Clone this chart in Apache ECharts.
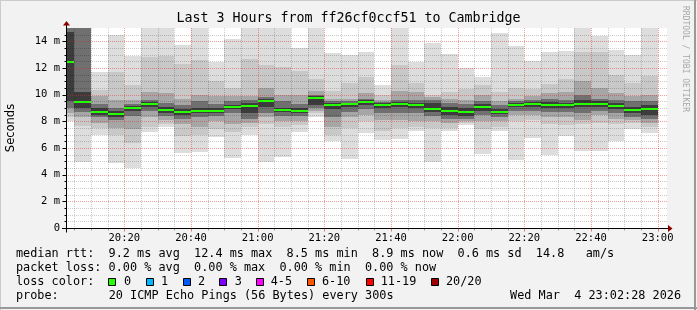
<!DOCTYPE html>
<html><head><meta charset="utf-8">
<script src="https://cdn.jsdelivr.net/npm/echarts@6/dist/echarts.min.js"></script>
<style>html,body{margin:0;padding:0;background:#f2f2f2}#c{width:697px;height:310px}</style>
</head><body><div id="c"></div>
<script>
// ---- data (5-minute slots, values in ms) ----
const slots = ['20:00','20:05','20:10','20:15','20:20','20:25','20:30','20:35','20:40','20:45','20:50','20:55',
  '21:00','21:05','21:10','21:15','21:20','21:25','21:30','21:35','21:40','21:45','21:50','21:55',
  '22:00','22:05','22:10','22:15','22:20','22:25','22:30','22:35','22:40','22:45','22:50','22:55'];
const maxV = [16,16,11.72,14.5,12.9,15.2,15.2,13.7,15.2,12.47,14.17,15.2,15.2,15.2,13.53,15.2,13.1,12.95,13.2,10.7,15.2,12.47,13.85,13.05,11.97,11.35,14.65,13.65,12.55,13.2,13.3,15.2,14.4,13.35,13.0,15.2];
const hi2  = [16,16,10.35,11.7,10.7,12.85,12.9,12.3,12.6,11.0,10.5,12.7,12.2,12.05,11.8,11.15,10.3,10.9,11.3,10.0,12.2,10.9,10.0,10.2,10.4,10.7,10.2,10.5,10.4,10.8,11.2,13.2,13.2,11.5,10.9,11.4];
const hi3  = [16,16,9.9,9.6,9.6,10.2,10.1,9.7,10.0,9.9,9.9,9.9,10.5,10.0,10.0,10.3,9.7,9.7,10.1,9.6,10.3,10.2,9.8,9.7,9.6,10.0,9.5,9.7,9.9,10.1,10.2,11.0,10.5,10.1,9.9,10.0];
const hi4  = [16,16,9.3,9.0,9.3,9.6,9.4,9.2,9.5,9.3,9.5,9.6,9.8,9.5,9.3,10.0,9.5,9.5,9.7,9.45,9.6,9.6,9.6,9.4,9.3,9.5,9.2,9.5,9.6,9.7,9.6,10.0,9.7,9.6,9.5,9.5];
const hi5  = [14.7,10.2,9.0,8.75,9.15,9.45,9.1,8.95,9.0,9.0,9.25,9.35,9.7,9.0,9.0,9.9,9.35,9.4,9.6,9.35,9.45,9.4,9.4,9.1,9.0,9.3,8.95,9.4,9.45,9.45,9.4,9.6,9.5,9.35,9.1,9.2];
const median = [12.45,9.47,8.72,8.55,9.02,9.3,8.87,8.72,8.8,8.8,9.1,9.17,9.55,8.87,8.8,9.75,9.25,9.32,9.47,9.25,9.32,9.25,8.95,8.75,8.72,9.1,8.72,9.25,9.32,9.25,9.25,9.32,9.32,9.17,8.87,8.95];
const lo5  = [9.5,9.0,8.5,8.35,8.8,9.1,8.6,8.5,8.6,8.6,8.9,8.6,9.1,8.7,8.6,9.2,8.9,9.1,9.2,9.0,9.1,9.0,8.7,8.5,8.4,8.8,8.55,9.05,9.1,9.0,9.0,9.1,9.1,8.9,8.6,8.5];
const lo4  = [9.0,8.7,8.3,8.1,8.4,8.8,8.4,8.2,8.3,8.4,8.6,8.2,8.6,8.4,8.4,9.0,8.3,8.7,8.9,8.6,8.6,8.6,8.4,8.2,8.2,8.5,8.3,8.8,8.8,8.7,8.7,8.6,8.8,8.6,8.3,8.2];
const lo3  = [8.6,8.35,7.9,7.5,7.4,8.35,8.1,7.8,7.6,8.0,7.8,7.9,8.3,8.0,8.0,8.8,7.6,8.3,8.5,8.1,8.1,8.0,8.0,7.9,8.0,8.0,8.0,8.5,8.5,8.3,8.3,8.1,8.5,8.2,8.1,7.9];
const lo2  = [8.3,7.65,7.5,7.0,6.35,7.6,7.8,6.9,7.0,7.4,7.2,7.6,7.8,7.6,7.7,8.6,7.0,7.5,8.0,7.3,7.5,7.6,7.5,7.5,7.9,7.4,7.6,8.0,8.1,7.8,7.7,7.8,7.9,7.8,7.9,7.6];
const minV = [8.0,4.92,6.97,4.85,4.47,7.2,7.55,5.6,5.72,6.8,5.27,7.0,4.92,5.35,7.22,8.35,6.52,5.15,7.1,6.6,6.68,7.28,4.98,7.28,7.72,5.55,7.28,5.1,6.73,5.48,6.9,5.8,5.8,6.53,7.43,7.15];
const loss = [0,0,0,0,0,0,0,0,0,0,0,0,0,0,0,0,0,0,0,0,0,0,0,0,0,0,0,0,0,0,0,0,0,0,0,0];
const xTickLabels = ['20:20','20:40','21:00','21:20','21:40','22:00','22:20','22:40','23:00'];
const yTickValues = [0,2,4,6,8,10,12,14];
const lossLabels = ['0','1','2','3','4-5','6-10','11-19','20/20'];
const lossColors = ['#26ff00','#00b8ff','#0059ff','#7e00ff','#ff00ff','#ff5500','#ff0000','#a10000'];
const rttStats = ['9.2','12.4','8.5','8.9','0.6','14.8'];
const lossStats = ['0.00','0.00','0.00','0.00'];
const probeText = '20 ICMP Echo Pings (56 Bytes) every 300s';
const stampText = 'Wed Mar  4 23:02:28 2026';

// ---- helpers ----
const smokeColors = ['#dddddd','#c8c8c8','#a6a6a6','#707070','#3c3c3c'];
function toMin(s){ const p = s.split(':').map(Number); return (p[0]-20)*60 + p[1]; }
function fmtMin(v){ const t = Math.round(v) + 20*60; const h = Math.floor(t/60), m = t%60; return h + ':' + String(m).padStart(2,'0'); }
const X_MIN = 2.8, X_MAX = 182.8, SLOT = 5;
const smokeData = slots.map((s,i)=>[toMin(s), toMin(s)+SLOT, minV[i], lo2[i], lo3[i], lo4[i], lo5[i], median[i], hi5[i], hi4[i], hi3[i], hi2[i], maxV[i], loss[i]]);

const chart = echarts.init(document.getElementById('c'), null, {renderer:'canvas'});
const MONO = 'DejaVu Sans Mono';

function clampRect(p0, p1, cs){
  let x0 = Math.max(Math.round(p0[0]), cs.x), x1 = Math.min(Math.round(p1[0]), cs.x + cs.width);
  let y0 = Math.max(Math.round(p0[1]), cs.y), y1 = Math.min(Math.round(p1[1]), cs.y + cs.height);
  return {x:x0, y:y0, width:Math.max(0,x1-x0), height:Math.max(0,y1-y0)};
}

function renderSmoke(params, api){
  const cs = params.coordSys;
  const x0 = api.value(0), x1 = api.value(1);
  const bands = [[2,12],[3,11],[4,10],[5,9],[6,8]];
  const children = bands.map((b,j)=>({
    type:'rect',
    shape: clampRect(api.coord([x0, api.value(b[1])]), api.coord([x1, api.value(b[0])]), cs),
    style:{fill: smokeColors[j]}
  }));
  return {type:'group', children};
}

function renderMedian(params, api){
  const cs = params.coordSys;
  const a = api.coord([api.value(0), api.value(7)]);
  const b = api.coord([api.value(1), api.value(7)]);
  const xa = Math.max(Math.round(a[0]), cs.x), xb = Math.round(b[0]);
  const y = Math.round(a[1]);
  return {type:'rect', shape:{x:xa, y:y-1, width:xb-xa, height:2}, style:{fill: lossColors[api.value(13)]}};
}

function renderGrid(params, api){
  const cs = params.coordSys;
  const kids = [];
  const minorStroke = 'rgba(0,0,0,0.2)', majorStroke = 'rgba(222,40,40,0.45)';
  const majorY = yTickValues.filter(v=>v>0);
  for (let v = 0.5; v < 15; v += 0.5){
    const y = Math.round(api.coord([X_MIN, v])[1]) + 0.5;
    const major = majorY.indexOf(v) >= 0;
    kids.push({type:'line', shape:{x1:cs.x+1, y1:y, x2:cs.x+cs.width, y2:y}, style:{stroke: major?majorStroke:minorStroke, lineWidth:1, lineDash:[1,1]}});
  }
  const majorX = xTickLabels.map(toMin);
  for (let m = 5; m <= 180; m += 5){
    const x = Math.round(api.coord([m, 0])[0]) + 0.5;
    const major = majorX.indexOf(m) >= 0;
    kids.push({type:'line', shape:{x1:x, y1:cs.y, x2:x, y2:cs.y+cs.height}, style:{stroke: major?majorStroke:minorStroke, lineWidth:1, lineDash:[1,1]}});
  }
  return {type:'group', children:kids};
}

function renderAxes(params, api){
  const cs = params.coordSys;
  const kids = [];
  const y0 = Math.round(api.coord([X_MIN, 0])[1]) + 0.5;
  const xL = cs.x - 0.5;
  for (let v = 0; v < 15; v += 0.5){
    const y = Math.round(api.coord([X_MIN, v])[1]) + 0.5;
    const major = yTickValues.indexOf(v) >= 0;
    kids.push({type:'line', shape:{x1:xL-(major?4:2), y1:y, x2:xL, y2:y}, style:{stroke:'#000', lineWidth:1}});
  }
  const majorX = xTickLabels.map(toMin);
  for (let m = 5; m <= 180; m += 5){
    const x = Math.round(api.coord([m, 0])[0]) + 0.5;
    const major = majorX.indexOf(m) >= 0;
    kids.push({type:'line', shape:{x1:x, y1:y0, x2:x, y2:y0+(major?3:2)}, style:{stroke: major?'rgba(222,40,40,0.6)':'rgba(0,0,0,0.35)', lineWidth:1}});
  }
  kids.push({type:'line', shape:{x1:cs.x-5, y1:y0, x2:cs.x+cs.width+1, y2:y0}, style:{stroke:'#000', lineWidth:1}});
  kids.push({type:'line', shape:{x1:xL, y1:y0+4, x2:xL, y2:cs.y-3}, style:{stroke:'#000', lineWidth:1}});
  const xr = cs.x + cs.width + 1;
  kids.push({type:'polygon', shape:{points:[[xr, y0-3.5],[xr+4.5, y0],[xr, y0+3.5]]}, style:{fill:'#8b0000'}});
  kids.push({type:'polygon', shape:{points:[[xL-3.5, cs.y-2.5],[xL+3.5, cs.y-2.5],[xL, cs.y-7]]}, style:{fill:'#8b0000'}});
  return {type:'group', children:kids};
}

// legend graphics
const LX = 16, ADV = 7.13;
const rowY = [254, 268.3, 282.3, 296];
const legendFont = {fontFamily: MONO, fontSize: 11.84, fill:'#000', verticalAlign:'middle', align:'left'};
const row1 = 'median rtt:  ' + rttStats[0] + ' ms avg  ' + rttStats[1] + ' ms max  ' + rttStats[2] + ' ms min  ' + rttStats[3] + ' ms now  ' + rttStats[4] + ' ms sd  ' + rttStats[5] + '   am/s';
const row2 = 'packet loss: ' + lossStats[0] + ' % avg  ' + lossStats[1] + ' % max  ' + lossStats[2] + ' % min  ' + lossStats[3] + ' % now';
const graphics = [
  {type:'text', x:LX, y:rowY[0], style:Object.assign({text:row1}, legendFont)},
  {type:'text', x:LX, y:rowY[1], style:Object.assign({text:row2}, legendFont)},
  {type:'text', x:LX, y:rowY[2], style:Object.assign({text:'loss color:'}, legendFont)},
  {type:'text', x:LX, y:rowY[3], style:Object.assign({text:'probe:'}, legendFont)},
  {type:'text', x:LX + 13*ADV, y:rowY[3], style:Object.assign({text:probeText}, legendFont)},
  {type:'text', x:681, y:rowY[3], style:Object.assign({text:stampText}, legendFont, {align:'right'})},
  {type:'text', x:685, y:59, rotation:-Math.PI/2, style:{text:'RRDTOOL / TOBI OETIKER', fontFamily:MONO, fontSize:8, fill:'#a8a8a8', align:'center', verticalAlign:'middle'}},
  {type:'line', shape:{x1:0, y1:0.5, x2:697, y2:0.5}, style:{stroke:'#cbcbcb', lineWidth:1}},
  {type:'line', shape:{x1:0.5, y1:0, x2:0.5, y2:310}, style:{stroke:'#cbcbcb', lineWidth:1}},
  {type:'line', shape:{x1:0, y1:308, x2:697, y2:308}, style:{stroke:'#999999', lineWidth:2}},
  {type:'line', shape:{x1:695, y1:0, x2:695, y2:310}, style:{stroke:'#999999', lineWidth:2}}
];
const boxX = [108.3,145.7,182.7,219.3,256.3,306.7,365.7,430.7];
const labX = [124,161,198,234.7,270.7,322,380.7,446];
lossLabels.forEach((lab,i)=>{
  graphics.push({type:'rect', shape:{x:Math.round(boxX[i])+0.5, y:278.5, width:7, height:7}, style:{fill:lossColors[i], stroke:'#000', lineWidth:1}});
  graphics.push({type:'text', x:labX[i], y:rowY[2], style:Object.assign({text:lab}, legendFont)});
});

const option = {
  animation:false,
  backgroundColor:'#f2f2f2',
  title:{text:'Last 3 Hours from ff26cf0ccf51 to Cambridge', left:'center', top:12.5, padding:0,
    textStyle:{fontFamily:MONO, fontSize:13.3, fontWeight:'normal', color:'#000'}},
  grid:{left:67, top:28, width:600, height:200, show:true, backgroundColor:'#ffffff', borderWidth:0,
    containLabel:false, outerBoundsMode:'none'},
  xAxis:{type:'value', min:X_MIN, max:X_MAX, axisLine:{show:false}, axisTick:{show:false}, splitLine:{show:false},
    axisLabel:{customValues:xTickLabels.map(toMin), formatter:(v)=>fmtMin(v), margin:5, fontFamily:MONO, fontSize:10.5, color:'#000'}},
  yAxis:{type:'value', min:0, max:15, axisLine:{show:false}, axisTick:{show:false}, splitLine:{show:false},
    axisLabel:{customValues:yTickValues, formatter:(v)=> v===0 ? '0' : v + ' m', margin:7, fontFamily:MONO, fontSize:10.5, color:'#000'},
    name:'Seconds', nameLocation:'middle', nameGap:50, nameRotate:90,
    nameTextStyle:{fontFamily:'DejaVu Sans', fontSize:11.5, color:'#000'}},
  graphic:graphics,
  series:[
    {type:'custom', name:'smoke', renderItem:renderSmoke, data:smokeData, encode:{x:[0,1], y:[2,12]}, z:2, clip:true, silent:true},
    {type:'custom', name:'grid', renderItem:renderGrid, data:[[X_MIN,0]], z:3, silent:true},
    {type:'custom', name:'median', renderItem:renderMedian, data:smokeData, encode:{x:[0,1], y:7}, z:4, clip:true, silent:true},
    {type:'custom', name:'axes', renderItem:renderAxes, data:[[X_MIN,0]], z:5, silent:true}
  ]
};
chart.setOption(option);
</script></body></html>
